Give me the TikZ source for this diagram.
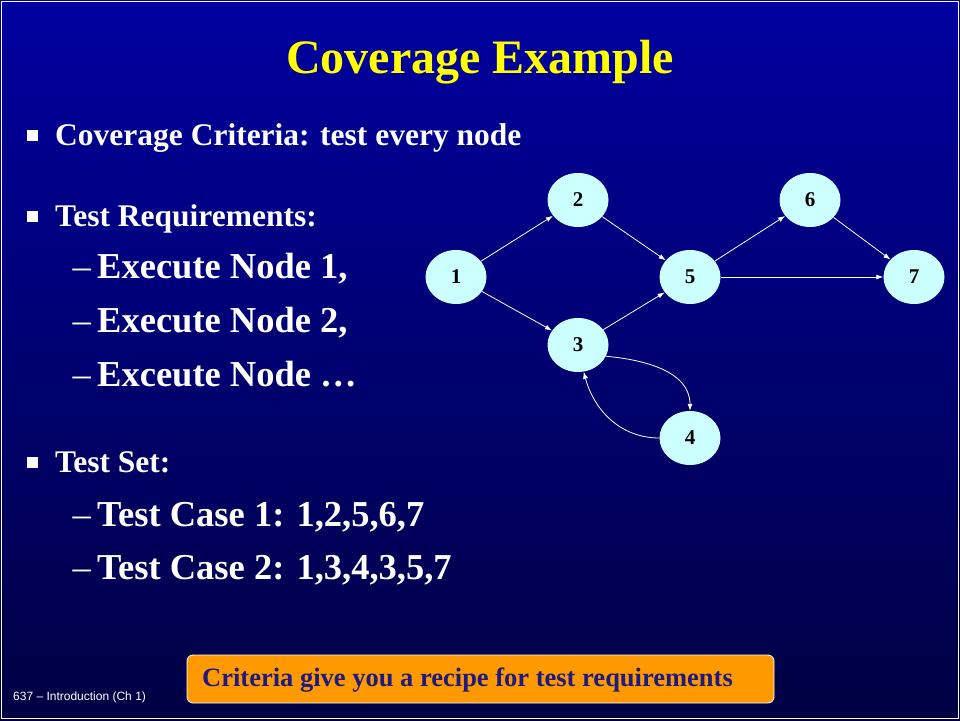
\documentclass[tikz,border=0pt]{standalone}
\usepackage{fontspec}
\setmainfont{Liberation Serif}
\setsansfont{Liberation Sans}
\usetikzlibrary{arrows.meta,shapes.geometric}
\definecolor{bgtop}{RGB}{0,0,160}
\definecolor{bgbot}{RGB}{0,0,66}
\definecolor{nodefill}{HTML}{CCFFFF}
\definecolor{titleyellow}{HTML}{FFFF00}
\definecolor{boxorange}{HTML}{FF9900}
\definecolor{boxtext}{HTML}{1F1A80}
\tikzset{
  gnode/.style={ellipse, fill=nodefill, draw=none, minimum width=61pt, minimum height=54pt, inner sep=0pt, font=\fontsize{21}{24}\selectfont\bfseries, text=black},
  gedge/.style={draw=white, line width=0.8pt, -{Latex[length=7pt,width=5pt]}},
  lvlone/.style={anchor=base west, inner sep=0pt, text=white, font=\fontsize{31.5}{36}\selectfont\bfseries},
  lvltwo/.style={anchor=base west, inner sep=0pt, text=white, font=\fontsize{36.5}{42}\selectfont\bfseries},
  dashmark/.style={anchor=base west, inner sep=0pt, text=white, font=\fontsize{36.5}{42}\selectfont\mdseries},
  bulletsq/.style={fill=white, minimum width=11pt, minimum height=10.5pt, inner sep=0pt, draw=none},
}
\begin{document}
\begin{tikzpicture}[x=1pt,y=1pt]
\useasboundingbox (0,0) rectangle (960,720);
\shade[top color=bgtop, bottom color=bgbot] (0,0) rectangle (960,720);
\draw[white, line width=1pt] (1.5,1.5) rectangle (958.5,718.5);
% title
\node[anchor=base, inner sep=0pt, text=titleyellow, font=\fontsize{48}{56}\selectfont\bfseries] (title) at (480,646) {Coverage Example};
% bullets
\node[bulletsq] (b1) at (32,584.5) {};
\node[lvlone] (t1) at (55,574) {Coverage Criteria: test every node};
\node[bulletsq] (b2) at (32,503.5) {};
\node[lvlone] (t2) at (55,493) {Test Requirements:};
\node[dashmark] (d1) at (72.5,441) {--};
\node[lvltwo] (t3) at (97,441) {Execute Node 1,};
\node[dashmark] (d2) at (72.5,387) {--};
\node[lvltwo] (t4) at (97,387) {Execute Node 2,};
\node[dashmark] (d3) at (72.5,333) {--};
\node[lvltwo] (t5) at (97,333) {Exceute Node …};
\node[bulletsq] (b3) at (32,257.5) {};
\node[lvlone] (t6) at (55,247) {Test Set:};
\node[dashmark] (d4) at (72.5,193) {--};
\node[lvltwo] (t7) at (97,193) {Test Case 1: 1,2,5,6,7};
\node[dashmark] (d5) at (72.5,140) {--};
\node[lvltwo] (t8) at (97,140) {Test Case 2: 1,3,4,3,5,7};
% graph
\node[gnode] (n1) at (456,443) {1};
\node[gnode] (n2) at (578,520) {2};
\node[gnode] (n3) at (578,375) {3};
\node[gnode] (n5) at (690,443) {5};
\node[gnode] (n6) at (810,520) {6};
\node[gnode] (n7) at (914,443) {7};
\node[gnode] (n4) at (690,282) {4};
\draw[gedge] (n1) -- (n2);
\draw[gedge] (n1) -- (n3);
\draw[gedge] (n2) -- (n5);
\draw[gedge] (n3) -- (n5);
\draw[gedge] (n5) -- (n6);
\draw[gedge] (n5) -- (n7);
\draw[gedge] (n6) -- (n7);
\draw[gedge] (n3.-22) to[out=-5,in=90] (n4.north);
\draw[gedge] (n4.west) to[out=180,in=-75] (n3.-78);
% bottom box
\node[draw=white, line width=0.8pt, fill=boxorange, rounded corners=6pt, minimum width=587pt, minimum height=48pt, inner sep=0pt] (box) at (480.5,41) {};
\node[inner sep=0pt, text=boxtext, font=\fontsize{26.5}{30}\selectfont\bfseries] (boxt) at (467.5,40) {Criteria give you a recipe for test requirements};
\node[anchor=west, inner sep=0pt, text=white, font=\sffamily\fontsize{12}{14}\selectfont] (foot) at (13,23) {637 -- Introduction (Ch 1)};
\end{tikzpicture}
\end{document}
